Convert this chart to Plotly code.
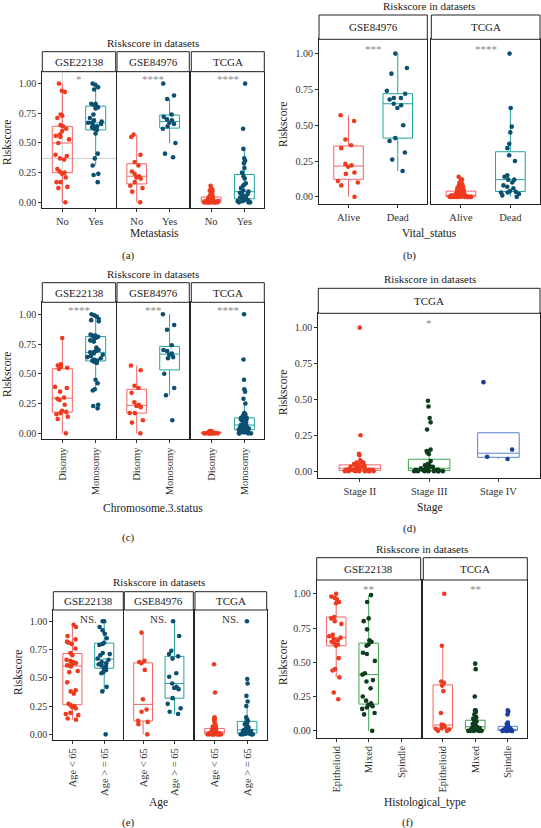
import numpy as np
import plotly.graph_objects as go

W, H = 541, 828
FONT = "Liberation Serif, Times New Roman, serif"

# ------------------------- data -------------------------
a_cats = ["No", "Yes"]
a_gse22138_no = [1.00, 0.94, 0.93, 0.74, 0.73, 0.71, 0.65, 0.64, 0.62, 0.60, 0.57, 0.56, 0.55, 0.53, 0.50,
                 0.40, 0.39, 0.37, 0.36, 0.28, 0.26, 0.25, 0.24, 0.21, 0.17, 0.17, 0.13, 0.12, 0.00]
a_gse22138_yes = [1.00, 0.99, 0.97, 0.95, 0.83, 0.83, 0.82, 0.81, 0.80, 0.79, 0.74, 0.71, 0.69, 0.68, 0.67,
                  0.67, 0.66, 0.65, 0.64, 0.63, 0.62, 0.61, 0.58, 0.41, 0.37, 0.31, 0.24, 0.23, 0.17]
a_gse84976_no = [0.57, 0.55, 0.40, 0.34, 0.31, 0.26, 0.24, 0.22, 0.21, 0.20, 0.17, 0.14, 0.12, 0.09, 0.00]
a_gse84976_yes = [1.00, 0.90, 0.87, 0.74, 0.72, 0.70, 0.69, 0.67, 0.66, 0.64, 0.62, 0.50, 0.41, 0.38]
a_tcga_no = [0.14, 0.12, 0.11, 0.10, 0.09, 0.08, 0.07, 0.06, 0.06, 0.05, 0.05, 0.04, 0.04, 0.04, 0.03,
             0.03, 0.03, 0.02, 0.02, 0.02, 0.02, 0.02, 0.01, 0.01, 0.01, 0.01, 0.01, 0.01, 0.01, 0.01,
             0.005, 0.005, 0.005, 0.0, 0.0, 0.0, 0.0, 0.0, 0.0, 0.0, 0.0, 0.0, 0.0]
a_tcga_yes = [1.00, 0.62, 0.45, 0.37, 0.35, 0.33, 0.29, 0.25, 0.22, 0.20, 0.16, 0.15, 0.14, 0.12, 0.10,
              0.09, 0.08, 0.08, 0.07, 0.06, 0.05, 0.04, 0.03, 0.03, 0.02, 0.02, 0.01, 0.01, 0.00, 0.00, 0.00]
a_crosshair_y = 0.37

b_cats = ["Alive", "Dead"]
b_gse84976_alive = [0.57, 0.53, 0.40, 0.36, 0.34, 0.23, 0.22, 0.21, 0.17, 0.16, 0.11, 0.10, 0.08, 0.00]
b_gse84976_dead = [1.00, 0.90, 0.86, 0.74, 0.72, 0.69, 0.69, 0.68, 0.65, 0.64, 0.62, 0.50, 0.41, 0.39,
                   0.31, 0.26, 0.18]
b_tcga_alive = [0.14, 0.12, 0.12, 0.10, 0.09, 0.08, 0.07, 0.07, 0.06, 0.06, 0.05, 0.05, 0.05, 0.04, 0.04,
                0.04, 0.03, 0.03, 0.03, 0.02, 0.02, 0.02, 0.02, 0.02, 0.01, 0.01, 0.01, 0.01, 0.01, 0.01,
                0.01, 0.01, 0.005, 0.005, 0.005, 0.005, 0.005, 0.0, 0.0, 0.0, 0.0, 0.0, 0.0, 0.0, 0.0,
                0.0, 0.0, 0.0, 0.0, 0.0, 0.0, 0.0, 0.0]
b_tcga_dead = [1.00, 0.62, 0.49, 0.45, 0.37, 0.34, 0.29, 0.25, 0.15, 0.14, 0.12, 0.12, 0.10, 0.08, 0.07,
               0.06, 0.04, 0.035, 0.03, 0.03, 0.02, 0.01, 0.00]

c_cats = ["Disomy", "Monosomy"]
c_gse22138_dis = [0.80, 0.58, 0.57, 0.56, 0.55, 0.54, 0.39, 0.38, 0.35, 0.30, 0.29, 0.28, 0.24, 0.19,
                  0.18, 0.17, 0.16, 0.14, 0.12, 0.00]
c_gse22138_mono = [1.00, 0.99, 0.98, 0.96, 0.95, 0.94, 0.83, 0.82, 0.82, 0.81, 0.80, 0.80, 0.78, 0.77,
                   0.72, 0.70, 0.69, 0.68, 0.68, 0.67, 0.66, 0.65, 0.64, 0.63, 0.62, 0.61, 0.61, 0.60,
                   0.59, 0.45, 0.42, 0.37, 0.36, 0.24, 0.23, 0.21]
c_gse84976_dis = [0.57, 0.53, 0.40, 0.38, 0.34, 0.26, 0.24, 0.23, 0.22, 0.17, 0.17, 0.11, 0.09, 0.00]
c_gse84976_mono = [1.00, 0.91, 0.87, 0.74, 0.70, 0.69, 0.67, 0.66, 0.64, 0.63, 0.50, 0.38, 0.32, 0.11]
c_tcga_dis = [0.02, 0.02, 0.015, 0.015, 0.01, 0.01, 0.01, 0.01, 0.01, 0.005, 0.005, 0.005, 0.005, 0.005,
              0.005, 0.0, 0.0, 0.0, 0.0, 0.0, 0.0, 0.0, 0.0, 0.0, 0.0]
c_tcga_mono = [1.00, 0.62, 0.45, 0.37, 0.35, 0.29, 0.25, 0.17, 0.16, 0.15, 0.15, 0.13, 0.13, 0.13, 0.12,
               0.12, 0.11, 0.10, 0.09, 0.08, 0.08, 0.07, 0.07, 0.06, 0.06, 0.05, 0.05, 0.05, 0.04, 0.04,
               0.04, 0.03, 0.03, 0.03, 0.02, 0.02, 0.02, 0.01, 0.01, 0.01, 0.01, 0.00, 0.00, 0.00, 0.00]

d_cats = ["Stage II", "Stage III", "Stage IV"]
d_stage2 = [1.00, 0.25, 0.12, 0.11, 0.075, 0.065, 0.06, 0.06, 0.05, 0.045, 0.04, 0.04, 0.035, 0.03, 0.03,
            0.03, 0.025, 0.02, 0.02, 0.02, 0.015, 0.015, 0.01, 0.01, 0.01, 0.01, 0.005, 0.005, 0.005,
            0.005, 0.0, 0.0, 0.0, 0.0, 0.0, 0.0, 0.0, 0.0]
d_stage3 = [0.49, 0.45, 0.37, 0.34, 0.29, 0.15, 0.14, 0.13, 0.12, 0.07, 0.05, 0.045, 0.04, 0.04, 0.03,
            0.03, 0.025, 0.02, 0.02, 0.015, 0.01, 0.01, 0.01, 0.01, 0.005, 0.005, 0.005, 0.005, 0.0, 0.0,
            0.0, 0.0, 0.0, 0.0, 0.0, 0.0]
d_stage4 = [0.62, 0.15, 0.10, 0.085]

e_cats = ["Age < 65", "Age > = 65"]
e_gse22138_lt = [0.97, 0.95, 0.87, 0.84, 0.82, 0.81, 0.80, 0.76, 0.72, 0.70, 0.66, 0.65, 0.64, 0.63,
                 0.62, 0.61, 0.61, 0.60, 0.56, 0.55, 0.46, 0.39, 0.38, 0.36, 0.27, 0.26, 0.25, 0.24,
                 0.23, 0.19, 0.18, 0.17, 0.14, 0.13]
e_gse22138_ge = [1.00, 1.00, 0.95, 0.92, 0.89, 0.85, 0.81, 0.80, 0.79, 0.72, 0.71, 0.70, 0.67, 0.66,
                 0.64, 0.63, 0.62, 0.61, 0.60, 0.58, 0.57, 0.55, 0.54, 0.42, 0.38, 0.00]
e_gse84976_lt = [0.90, 0.65, 0.64, 0.63, 0.57, 0.31, 0.22, 0.20, 0.12, 0.11, 0.09, 0.00]
e_gse84976_ge = [1.00, 0.87, 0.74, 0.71, 0.69, 0.67, 0.54, 0.51, 0.45, 0.42, 0.41, 0.40, 0.32, 0.27,
                 0.23, 0.20, 0.18]
e_tcga_lt = [0.62, 0.37, 0.15, 0.14, 0.13, 0.12, 0.10, 0.08, 0.07, 0.06, 0.05, 0.05, 0.04, 0.04, 0.03,
             0.03, 0.03, 0.02, 0.02, 0.02, 0.02, 0.015, 0.01, 0.01, 0.01, 0.01, 0.01, 0.005, 0.005,
             0.005, 0.005, 0.0, 0.0, 0.0, 0.0, 0.0, 0.0, 0.0, 0.0, 0.0]
e_tcga_ge = [1.00, 0.49, 0.45, 0.34, 0.29, 0.25, 0.15, 0.13, 0.12, 0.11, 0.10, 0.09, 0.08, 0.07, 0.06,
             0.05, 0.05, 0.04, 0.04, 0.03, 0.03, 0.03, 0.02, 0.02, 0.02, 0.01, 0.01, 0.01, 0.01, 0.005,
             0.005, 0.0, 0.0, 0.0, 0.0]

f_cats = ["Epithelioid", "Mixed", "Spindle"]
f_gse22138_epi = [1.00, 0.98, 0.97, 0.96, 0.94, 0.93, 0.83, 0.82, 0.80, 0.78, 0.70, 0.69, 0.68, 0.67,
                  0.66, 0.65, 0.64, 0.63, 0.62, 0.53, 0.45, 0.44, 0.39, 0.28, 0.23]
f_gse22138_mixed = [0.99, 0.94, 0.82, 0.80, 0.74, 0.66, 0.65, 0.63, 0.62, 0.57, 0.56, 0.51, 0.42, 0.41,
                    0.37, 0.36, 0.31, 0.25, 0.22, 0.20, 0.19, 0.18, 0.17, 0.16, 0.13, 0.12, 0.00]
f_gse22138_spindle = []
f_tcga_epi = [1.00, 0.62, 0.36, 0.35, 0.33, 0.29, 0.13, 0.045, 0.04, 0.04, 0.03, 0.02, 0.015, 0.01,
              0.0, 0.0]
f_tcga_mixed = [0.49, 0.45, 0.25, 0.15, 0.15, 0.14, 0.12, 0.10, 0.09, 0.08, 0.07, 0.07, 0.06, 0.05,
                0.05, 0.04, 0.04, 0.03, 0.03, 0.03, 0.02, 0.02, 0.02, 0.02, 0.01, 0.01, 0.01, 0.01,
                0.01, 0.005, 0.005, 0.005, 0.0, 0.0, 0.0, 0.0, 0.0, 0.0]
f_tcga_spindle = [0.15, 0.14, 0.12, 0.06, 0.05, 0.05, 0.04, 0.03, 0.03, 0.02, 0.02, 0.02, 0.015, 0.01,
                  0.01, 0.01, 0.01, 0.005, 0.005, 0.005, 0.005, 0.0, 0.0, 0.0, 0.0, 0.0, 0.0, 0.0]

y_ticks = [0, 0.25, 0.5, 0.75, 1.0]
y_ticktext = ["0.00", "0.25", "0.50", "0.75", "1.00"]

# ------------------------- styles -------------------------
RED = ("#EE3B1F", "#F26464")
TEAL = ("#0B4F71", "#22A39F")
GREEN = ("#0E3D1E", "#3FA34D")
BLUE = ("#1B3E9E", "#5C82D6")
STAR = "#8a8a8a"
TXT = "#1a1a1a"
TICK = "#333333"
YR = [-0.05, 1.10]

# facet layout (pixel positions)
facets = [
    # panel a
    dict(x=(42.3, 115.7), strip=(51.7, 71.7), plot=(71.7, 208.3), cats=a_cats,
         data=[a_gse22138_no, a_gse22138_yes], cols=[RED, TEAL], label="GSE22138", sig="*", first=True, rot=False),
    dict(x=(117.0, 189.3), strip=(51.7, 71.7), plot=(71.7, 208.3), cats=a_cats,
         data=[a_gse84976_no, a_gse84976_yes], cols=[RED, TEAL], label="GSE84976", sig="****", first=False, rot=False),
    dict(x=(191.3, 264.3), strip=(51.7, 71.7), plot=(71.7, 208.3), cats=a_cats,
         data=[a_tcga_no, a_tcga_yes], cols=[RED, TEAL], label="TCGA", sig="****", first=False, rot=False),
    # panel b
    dict(x=(319.0, 427.3), strip=(15.0, 39.3), plot=(39.3, 204.0), cats=b_cats,
         data=[b_gse84976_alive, b_gse84976_dead], cols=[RED, TEAL], label="GSE84976", sig="***", first=True, rot=False),
    dict(x=(431.3, 540.0), strip=(15.0, 39.3), plot=(39.3, 204.0), cats=b_cats,
         data=[b_tcga_alive, b_tcga_dead], cols=[RED, TEAL], label="TCGA", sig="****", first=False, rot=False),
    # panel c
    dict(x=(42.3, 115.7), strip=(282.7, 302.3), plot=(302.3, 439.3), cats=c_cats,
         data=[c_gse22138_dis, c_gse22138_mono], cols=[RED, TEAL], label="GSE22138", sig="****", first=True, rot=True),
    dict(x=(117.0, 189.3), strip=(282.7, 302.3), plot=(302.3, 439.3), cats=c_cats,
         data=[c_gse84976_dis, c_gse84976_mono], cols=[RED, TEAL], label="GSE84976", sig="***", first=False, rot=True),
    dict(x=(191.3, 264.3), strip=(282.7, 302.3), plot=(302.3, 439.3), cats=c_cats,
         data=[c_tcga_dis, c_tcga_mono], cols=[RED, TEAL], label="TCGA", sig="****", first=False, rot=True),
    # panel d
    dict(x=(318.3, 540.0), strip=(288.3, 313.3), plot=(313.3, 478.3), cats=d_cats,
         data=[d_stage2, d_stage3, d_stage4], cols=[RED, GREEN, BLUE], label="TCGA", sig="*", first=True, rot=False),
    # panel e
    dict(x=(53.3, 123.3), strip=(591.7, 610.0), plot=(610.0, 740.0), cats=e_cats,
         data=[e_gse22138_lt, e_gse22138_ge], cols=[RED, TEAL], label="GSE22138", sig="NS.", first=True, rot=True),
    dict(x=(124.3, 193.3), strip=(591.7, 610.0), plot=(610.0, 740.0), cats=e_cats,
         data=[e_gse84976_lt, e_gse84976_ge], cols=[RED, TEAL], label="GSE84976", sig="NS.", first=False, rot=True),
    dict(x=(195.0, 266.7), strip=(591.7, 610.0), plot=(610.0, 740.0), cats=e_cats,
         data=[e_tcga_lt, e_tcga_ge], cols=[RED, TEAL], label="TCGA", sig="NS.", first=False, rot=True),
    # panel f
    dict(x=(316.7, 420.7), strip=(557.7, 580.0), plot=(580.0, 737.7), cats=f_cats,
         data=[f_gse22138_epi, f_gse22138_mixed, f_gse22138_spindle], cols=[RED, GREEN, BLUE],
         label="GSE22138", sig="**", first=True, rot=True),
    dict(x=(423.3, 527.3), strip=(557.7, 580.0), plot=(580.0, 737.7), cats=f_cats,
         data=[f_tcga_epi, f_tcga_mixed, f_tcga_spindle], cols=[RED, GREEN, BLUE],
         label="TCGA", sig="**", first=False, rot=True),
]

panel_texts = [
    dict(title=(153, 43), xt="Metastasis", xtp=(154, 233), let="(a)", letp=(128, 255), yl=(7, 143)),
    dict(title=(429, 6), xt="Vital_status", xtp=(429, 233), let="(b)", letp=(409, 255), yl=(283, 125)),
    dict(title=(153, 274), xt="Chromosome.3.status", xtp=(153, 508), let="(c)", letp=(128, 537), yl=(7, 375)),
    dict(title=(430, 279), xt="Stage", xtp=(430, 508), let="(d)", letp=(409, 528), yl=(283, 393)),
    dict(title=(159, 582), xt="Age", xtp=(158, 802), let="(e)", letp=(128, 822), yl=(18, 673)),
    dict(title=(422, 549), xt="Histological_type", xtp=(425, 802), let="(f)", letp=(407, 822), yl=(283, 663)),
]

BOX_W = 0.6


def box_stats(v):
    v = np.asarray(v, float)
    q1, med, q3 = np.percentile(v, [25, 50, 75])
    iqr = q3 - q1
    lo = v[v >= q1 - 1.5 * iqr].min()
    hi = v[v <= q3 + 1.5 * iqr].max()
    return q1, med, q3, lo, hi


fig = go.Figure()
shapes = []
annotations = []
layout_axes = {}

for i, f in enumerate(facets, start=1):
    sfx = "" if i == 1 else str(i)
    xa, ya = "x" + sfx, "y" + sfx
    n = len(f["cats"])
    positions = list(range(1, n + 1))
    for pos, vals, (pt_col, box_col) in zip(positions, f["data"], f["cols"]):
        if len(vals) == 0:
            continue
        q1, med, q3, lo, hi = box_stats(vals)
        fig.add_trace(go.Box(
            x=[pos], q1=[q1], median=[med], q3=[q3], lowerfence=[lo], upperfence=[hi],
            width=BOX_W, whiskerwidth=0, boxpoints=False,
            line=dict(color=box_col, width=1), fillcolor="rgba(0,0,0,0)",
            xaxis=xa, yaxis=ya, showlegend=False, hoverinfo="skip"))
        fig.add_trace(go.Box(
            x=[pos] * len(vals), y=vals, width=BOX_W, boxpoints="all", jitter=0.85, pointpos=0,
            line=dict(color="rgba(0,0,0,0)", width=0), fillcolor="rgba(0,0,0,0)",
            marker=dict(color=pt_col, size=4.6, opacity=1),
            xaxis=xa, yaxis=ya, showlegend=False))

    x0, x1 = f["x"]
    top, bottom = f["plot"]
    layout_axes["xaxis" + sfx] = dict(
        domain=[x0 / W, x1 / W], anchor=ya, range=[0.4, n + 0.6], automargin=False,
        tickvals=positions, ticktext=f["cats"], tickangle=-90 if f["rot"] else 0,
        ticks="outside", ticklen=3, tickcolor=TICK, tickwidth=1,
        showline=True, mirror=True, linecolor="#222222", linewidth=1,
        showgrid=False, zeroline=False, fixedrange=True,
        tickfont=dict(family=FONT, size=10.5, color=TICK))
    layout_axes["yaxis" + sfx] = dict(
        domain=[1 - bottom / H, 1 - top / H], anchor=xa, range=YR, automargin=False,
        tickvals=y_ticks, ticktext=y_ticktext, showticklabels=f["first"],
        ticks="outside" if f["first"] else "", ticklen=3, tickcolor=TICK, tickwidth=1,
        showline=True, mirror=True, linecolor="#222222", linewidth=1,
        showgrid=False, zeroline=False, fixedrange=True,
        tickfont=dict(family=FONT, size=10, color=TICK))

    s0, s1 = f["strip"]
    shapes.append(dict(type="rect", xref="paper", yref="paper", x0=x0 / W, x1=x1 / W,
                       y0=1 - s1 / H, y1=1 - s0 / H, line=dict(color="#222222", width=1),
                       fillcolor="white", layer="above"))
    annotations.append(dict(text=f["label"], xref="paper", yref="paper", x=(x0 + x1) / 2 / W,
                            y=1 - (s0 + s1) / 2 / H, showarrow=False, xanchor="center", yanchor="middle",
                            font=dict(family=FONT, size=11, color=TXT)))
    is_ns = f["sig"] == "NS."
    annotations.append(dict(text=f["sig"], xref=xa + " domain", yref=ya, x=0.5,
                            y=1.02 if is_ns else 1.035, showarrow=False, xanchor="center",
                            yanchor="middle",
                            font=dict(family=FONT, size=11, color="#333333" if is_ns else STAR)))

# gray crosshair in panel (a), first facet
shapes.append(dict(type="line", xref="x domain", yref="y", x0=0, x1=1, y0=a_crosshair_y,
                   y1=a_crosshair_y, line=dict(color="#d0d0d0", width=1), layer="below"))
shapes.append(dict(type="line", xref="x", yref="y domain", x0=1, x1=1, y0=0, y1=1,
                   line=dict(color="#d0d0d0", width=1), layer="below"))

for p in panel_texts:
    annotations.append(dict(text="Riskscore in datasets", xref="paper", yref="paper",
                            x=p["title"][0] / W, y=1 - p["title"][1] / H, showarrow=False,
                            xanchor="center", yanchor="middle", font=dict(family=FONT, size=11, color=TXT)))
    annotations.append(dict(text=p["xt"], xref="paper", yref="paper", x=p["xtp"][0] / W,
                            y=1 - p["xtp"][1] / H, showarrow=False, xanchor="center", yanchor="middle",
                            font=dict(family=FONT, size=11.5, color=TXT)))
    annotations.append(dict(text=p["let"], xref="paper", yref="paper", x=p["letp"][0] / W,
                            y=1 - p["letp"][1] / H, showarrow=False, xanchor="center", yanchor="middle",
                            font=dict(family=FONT, size=11, color=TXT)))
    annotations.append(dict(text="Riskscore", xref="paper", yref="paper", x=p["yl"][0] / W,
                            y=1 - p["yl"][1] / H, showarrow=False, xanchor="center", yanchor="middle",
                            textangle=-90, font=dict(family=FONT, size=11.5, color=TXT)))

fig.update_layout(
    template="none",
    width=W, height=H, autosize=False,
    margin=dict(l=0, r=0, t=0, b=0, pad=0),
    paper_bgcolor="white", plot_bgcolor="white",
    boxmode="overlay", showlegend=False,
    shapes=shapes, annotations=annotations,
    font=dict(family=FONT, color=TXT),
    **layout_axes)

fig.write_html(
    "out.html",
    config={"displayModeBar": False, "staticPlot": True},
    post_script="document.body.style.margin='0';document.body.style.padding='0';"
                "document.body.style.overflow='hidden';")
